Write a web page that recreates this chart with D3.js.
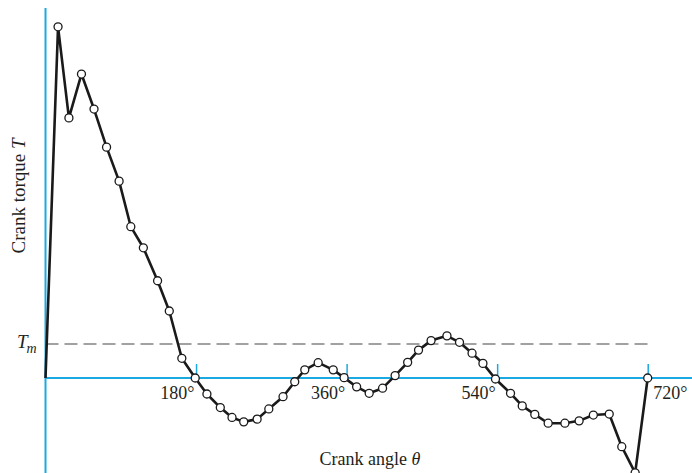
<!DOCTYPE html>
<html>
<head>
<meta charset="utf-8">
<script src="https://cdn.jsdelivr.net/npm/d3@7"></script>
<style>
  body { margin: 0; background: #fff; }
  text { font-family: "Liberation Serif", "DejaVu Serif", serif; fill: #231f20; }
</style>
</head>
<body>
<svg id="chart"></svg>
<script>
// crank angle (deg) and crank torque (Tm = 1)
const angles = [0, 15, 28, 43, 58, 73, 88, 102, 117, 134, 148, 163, 179,
  193, 209, 223, 237, 253, 267, 284, 298, 310, 326, 344, 357,
  372, 387, 403, 418, 433, 446, 461, 480, 495, 510, 523, 538,
  556, 570, 585, 601, 621, 638, 655, 674, 689, 705, 720];
const torque = [0, 10.33, 7.65, 8.94, 7.91, 6.79, 5.79, 4.45, 3.83, 2.86, 1.97, 0.58, 0,
  -0.47, -0.87, -1.16, -1.29, -1.21, -0.91, -0.55, -0.11, 0.24, 0.45, 0.24, 0.01,
  -0.26, -0.45, -0.30, 0.07, 0.46, 0.82, 1.10, 1.24, 1.05, 0.73, 0.43, -0.03,
  -0.45, -0.82, -1.07, -1.33, -1.33, -1.26, -1.09, -1.06, -2.02, -2.79, 0];
const tickAngles = [180, 360, 540, 720];
const meanTorque = 1;

const width = 692;
const height = 473;
const blue = '#1aa9e1';

const data = angles.map((a, i) => ({ a: a, t: torque[i] }));

const xScale = d3.scaleLinear().domain([0, 720]).range([45.5, 647.7]);
const yScale = d3.scaleLinear().domain([-3, 11]).range([480, 4]);

const chart = d3.select('#chart')
  .attr('width', width)
  .attr('height', height);

/* Tm dashed line */
chart.append('line')
  .attr('x1', xScale(0))
  .attr('x2', 650)
  .attr('y1', yScale(meanTorque))
  .attr('y2', yScale(meanTorque))
  .attr('stroke', '#444')
  .attr('stroke-width', 1.2)
  .attr('stroke-dasharray', '13,6');

/* Axes */
chart.append('line')
  .attr('x1', xScale(0)).attr('x2', xScale(0))
  .attr('y1', 8).attr('y2', height)
  .attr('stroke', blue).attr('stroke-width', 2);

chart.append('line')
  .attr('x1', xScale(0)).attr('x2', width)
  .attr('y1', yScale(0)).attr('y2', yScale(0))
  .attr('stroke', blue).attr('stroke-width', 2);

const botAxis = d3.axisBottom(xScale)
  .tickValues(tickAngles)
  .tickSize(-14)
  .tickSizeOuter(0)
  .tickPadding(0)
  .tickFormat(d => d + '°');

const gx = chart.append('g')
  .attr('transform', `translate(0, ${yScale(0)})`)
  .call(botAxis);
gx.select('.domain').remove();
gx.selectAll('.tick line').attr('stroke', blue).attr('stroke-width', 1.5);
gx.selectAll('.tick text')
  .attr('font-family', '"Liberation Serif", serif')
  .attr('font-size', 18)
  .attr('fill', '#231f20')
  .attr('dy', null)
  .attr('y', 21)
  .attr('text-anchor', d => (d === 720 ? 'start' : 'end'))
  .attr('x', d => (d === 720 ? 5 : -2));

/* Curve */
const line = d3.line()
  .x(d => xScale(d.a))
  .y(d => yScale(d.t));

chart.append('path')
  .datum(data)
  .attr('d', line)
  .attr('fill', 'none')
  .attr('stroke', '#1a1a1a')
  .attr('stroke-width', 2.6)
  .attr('stroke-linejoin', 'round');

chart.selectAll('circle')
  .data(data.slice(1))
  .enter()
  .append('circle')
  .attr('cx', d => xScale(d.a))
  .attr('cy', d => yScale(d.t))
  .attr('r', 4)
  .attr('fill', '#fff')
  .attr('stroke', '#1a1a1a')
  .attr('stroke-width', 1.3);

/* Labels */
const tm = chart.append('text')
  .attr('x', 17)
  .attr('y', 348)
  .attr('font-size', 19)
  .attr('font-style', 'italic');
tm.append('tspan').text('T');
tm.append('tspan').attr('dy', 5).attr('dx', -1).attr('font-size', 14).text('m');

const yLab = chart.append('text')
  .attr('transform', 'translate(25, 196) rotate(-90)')
  .attr('text-anchor', 'middle')
  .attr('font-size', 19);
yLab.append('tspan').text('Crank torque ');
yLab.append('tspan').attr('font-style', 'italic').text('T');

const xLab = chart.append('text')
  .attr('x', 370)
  .attr('y', 465)
  .attr('text-anchor', 'middle')
  .attr('font-size', 18);
xLab.append('tspan').text('Crank angle ');
xLab.append('tspan').attr('font-style', 'italic').text('θ');
</script>
</body>
</html>
